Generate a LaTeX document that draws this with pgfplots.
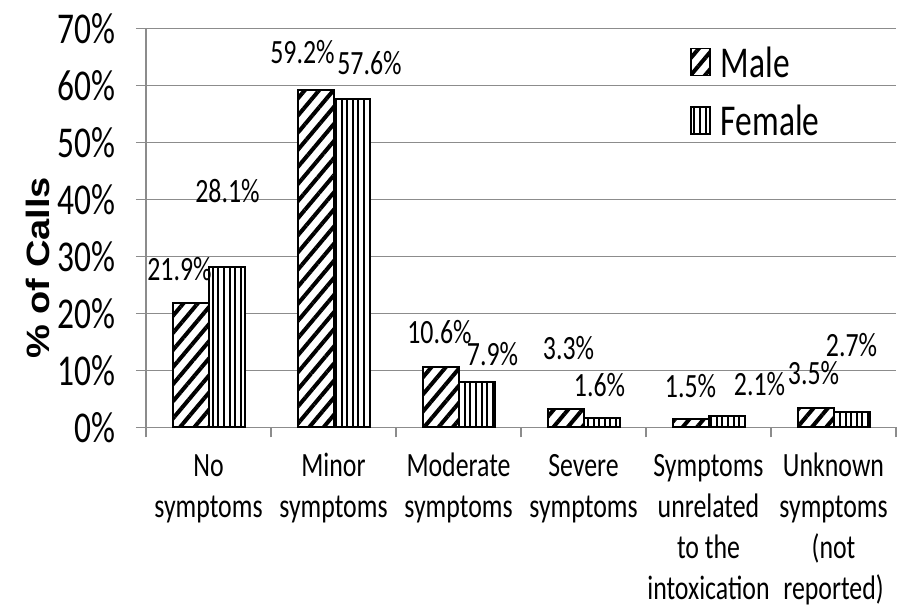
\documentclass[border=0pt]{standalone}
\usepackage{fontspec}
\setmainfont{Carlito}
\newfontfamily\arialf{Liberation Sans}
\usepackage{graphicx}
\usepackage{pgfplots}
\usepackage{pgfplotstable}
\pgfplotsset{compat=1.18}
\usetikzlibrary{patterns.meta}

% Excel squashes the text horizontally
\newcommand{\sq}[1]{\scalebox{0.76}[1]{#1}}
\newcommand{\xl}[1]{\sq{\begin{tabular}[t]{@{}c@{}}#1\end{tabular}}}

% x, value, label offset (pt)
\pgfplotstableread{
x  y    dx   dy
0  21.9 -5.5 17
1  59.2 -6.5 19
2  10.6 -0.5 17.5
3  3.3  1.5  30.5
4  1.5  0    16.5
5  3.5  -1   17.5
}\male
\pgfplotstableread{
x  y    dx   dy
0  28.1 0.5  38
1  57.6 9    18
2  7.9  8    14
3  1.6  -1   16.5
4  2.1  16.5 15.5
5  2.7  0    33.5
}\female

\begin{document}
\begin{tikzpicture}
\begin{axis}[
    name=ax,
    scale only axis,
    width=375pt,
    height=199.5pt,
    /pgf/number format/assume math mode=true,
    ybar=0pt,
    bar width=18pt,
    xmin=-0.5, xmax=5.5,
    ymin=0, ymax=70,
    xtick={-0.5,0.5,...,5.5},
    xticklabels={},
    extra x ticks={0,1,2,3,4,5},
    extra x tick labels={\xl{No\\symptoms},\xl{Minor\\symptoms},\xl{Moderate\\symptoms},\xl{Severe\\symptoms},\xl{Symptoms\\unrelated\\to the\\intoxication},\xl{Unknown\\symptoms\\(not\\reported)}},
    extra x tick style={major tick length=0pt, grid=none},
    ytick={0,10,...,70},
    yticklabel={\sq{\pgfmathprintnumber{\tick}\%}},
    yticklabel style={font=\fontsize{22}{26}\selectfont, xshift=-7pt},
    xticklabel style={font=\fontsize{17}{20.5}\selectfont, yshift=-6.5pt},
    tick align=outside,
    major tick length=5pt,
    tick style={draw=black!45, line width=0.6pt},
    axis x line*=bottom,
    axis y line*=left,
    axis line style={draw=black!45, line width=0.6pt, -},
    ymajorgrids,
    major grid style={draw=black!45, line width=0.6pt},
    ylabel={\scalebox{1}[0.85]{\arialf\bfseries\% of Calls}},
    ylabel style={at={(axis description cs:-0.144,0.40)}, anchor=center, font=\fontsize{19}{22}\selectfont},
    nodes near coords={\sq{\pgfmathprintnumber[fixed,fixed zerofill,precision=1]{\pgfplotspointmeta}\%}},
    visualization depends on={\thisrow{dx} \as \dx},
    visualization depends on={\thisrow{dy} \as \dy},
    every node near coord/.append style={anchor=center, xshift=\dx pt, yshift=\dy pt, inner sep=0pt, font=\fontsize{17}{20}\selectfont},
    legend style={at={(rel axis cs:0.725,0.965)}, anchor=north west, draw=none, fill=none,
        font=\fontsize{22}{26}\selectfont, row sep=8.5pt, inner sep=0pt},
    legend cell align=left,
    legend image code/.code={\draw[#1, line width=0.8pt] (0pt,-6pt) rectangle (9.5pt,7.5pt);},
]
\addplot[fill=white, draw=black, line width=1pt,
    postaction={pattern={Lines[angle=50,distance=5.5pt,line width=2pt]}}]
    table[x=x, y=y] {\male};
\addplot[fill=white, draw=black, line width=1pt,
    postaction={pattern={Lines[angle=90,distance=2.8pt,line width=1pt]}}]
    table[x=x, y=y] {\female};
\legend{\hspace{3pt}\sq{Male},\hspace{3pt}\sq{Female}}
\end{axis}
\pgfresetboundingbox
\path ([shift={(-73pt,-90pt)}]ax.south west) rectangle ([shift={(0.5pt,14.25pt)}]ax.north east);
\end{tikzpicture}
\end{document}
